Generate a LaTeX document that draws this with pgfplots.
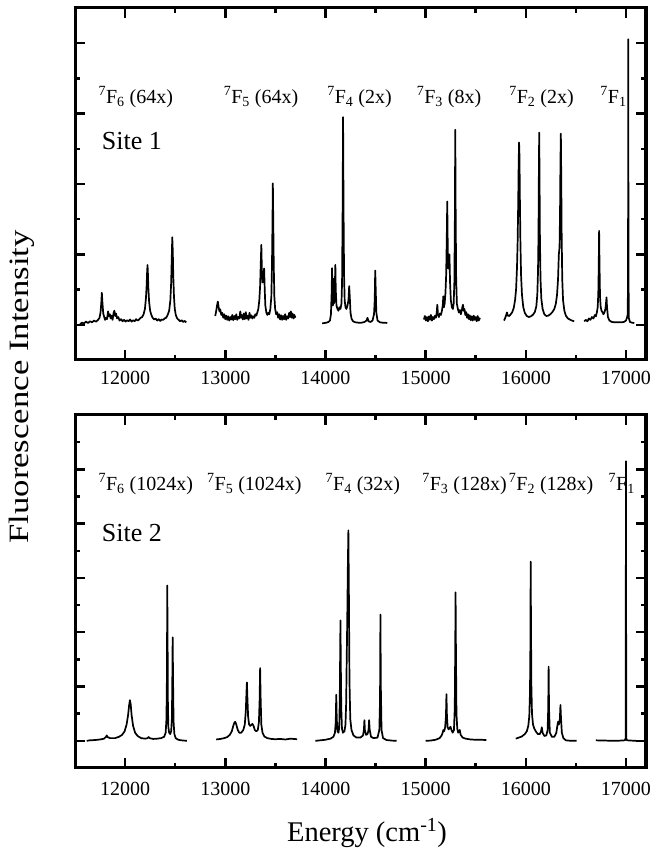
\documentclass[border=0pt]{standalone}
\usepackage{pgfplots}
\pgfplotsset{compat=1.18}
\usepackage{fontspec}
\setmainfont{Liberation Serif}

\newcommand{\F}[1]{\textsuperscript{7}F\textsubscript{#1}}
\newcommand{\lblfont}{\fontsize{20}{24}\selectfont}
\newcommand{\sitefont}{\fontsize{26}{30}\selectfont}

\pgfplotsset{
  specax/.style={
    scale only axis, width=571pt,
    xmin=11500, xmax=17200, ymin=-1,
    xtick={12000,13000,...,17000}, minor x tick num=1,
    scaled x ticks=false,
    yticklabels={},
    axis line style={line width=3pt},
    every tick/.style={black, line width=2.5pt},
    major tick length=10pt, minor tick length=5pt,
    xticklabel style={/pgf/number format/fixed, /pgf/number format/1000 sep={},
      /pgf/number format/assume math mode=true},
    no markers,
    every axis plot post/.append style={black, solid, line width=1.7pt, line join=round},
  },
}

\begin{document}
\begin{tikzpicture}
\useasboundingbox (0,0) rectangle (651pt,865pt);

% ---------- Site 1 ----------
\begin{axis}[specax, at={(75pt,505pt)}, anchor=south west, height=352pt,
  ymax=9, ytick={0,2,4,6,8}, minor ytick={1,3,5,7},
  xticklabel style={font=\fontsize{20}{24}\selectfont, yshift=-8pt}]
% 7F6
\addplot coordinates {(11550,0.02)(11570,0.06)(11590,0.04)(11610,0.09)(11630,0.05)(11650,0.10)(11670,0.07)(11690,0.12)(11710,0.09)(11730,0.14)(11745,0.20)(11755,0.35)(11762,0.60)(11768,0.91)(11774,0.62)(11782,0.32)(11792,0.22)(11800,0.14)(11810,0.20)(11820,0.16)(11830,0.38)(11838,0.24)(11848,0.30)(11856,0.18)(11866,0.26)(11875,0.14)(11885,0.33)(11893,0.40)(11902,0.25)(11910,0.32)(11920,0.18)(11932,0.22)(11945,0.12)(11960,0.16)(11975,0.10)(11990,0.14)(12005,0.09)(12020,0.13)(12035,0.10)(12050,0.15)(12065,0.09)(12080,0.13)(12095,0.10)(12110,0.16)(12125,0.12)(12140,0.15)(12155,0.20)(12170,0.22)(12185,0.30)(12198,0.45)(12208,0.75)(12215,1.10)(12220,1.50)(12224,1.70)(12228,1.45)(12233,1.00)(12240,0.65)(12250,0.40)(12262,0.28)(12275,0.20)(12290,0.15)(12305,0.18)(12320,0.12)(12335,0.16)(12350,0.11)(12365,0.15)(12380,0.14)(12395,0.18)(12410,0.20)(12425,0.28)(12440,0.40)(12452,0.70)(12460,1.20)(12466,1.90)(12471,2.49)(12476,2.10)(12481,1.40)(12488,0.80)(12496,0.45)(12506,0.28)(12520,0.18)(12535,0.14)(12550,0.10)(12565,0.13)(12580,0.08)(12595,0.11)(12610,0.07)};
% 7F5
\addplot coordinates {(12900,0.25)(12910,0.40)(12918,0.55)(12926,0.66)(12934,0.50)(12942,0.38)(12950,0.44)(12960,0.28)(12970,0.34)(12980,0.20)(12990,0.30)(13000,0.16)(13010,0.26)(13020,0.14)(13030,0.24)(13040,0.12)(13050,0.22)(13060,0.15)(13070,0.28)(13080,0.13)(13090,0.25)(13100,0.16)(13110,0.30)(13120,0.14)(13130,0.22)(13140,0.18)(13150,0.38)(13158,0.20)(13166,0.28)(13175,0.15)(13185,0.32)(13195,0.16)(13205,0.36)(13213,0.18)(13222,0.26)(13232,0.14)(13242,0.34)(13250,0.20)(13260,0.27)(13270,0.18)(13280,0.24)(13290,0.20)(13300,0.30)(13310,0.26)(13320,0.35)(13330,0.45)(13340,0.70)(13348,1.10)(13354,1.70)(13360,2.27)(13366,1.50)(13372,1.20)(13380,1.40)(13388,1.60)(13394,1.00)(13400,0.55)(13410,0.35)(13420,0.28)(13430,0.34)(13440,0.30)(13450,0.45)(13460,0.80)(13466,1.60)(13471,2.80)(13475,4.02)(13479,3.00)(13484,1.70)(13490,0.80)(13498,0.45)(13508,0.30)(13518,0.36)(13528,0.20)(13538,0.30)(13548,0.15)(13558,0.27)(13568,0.14)(13578,0.25)(13588,0.16)(13598,0.30)(13608,0.14)(13618,0.24)(13628,0.18)(13638,0.34)(13646,0.22)(13655,0.38)(13664,0.20)(13672,0.32)(13682,0.18)(13690,0.28)(13700,0.20)};
% 7F4
\addplot coordinates {(13967,0.04)(13990,0.05)(14010,0.06)(14030,0.08)(14045,0.12)(14055,0.30)(14062,0.90)(14066,1.61)(14070,0.90)(14075,0.55)(14080,1.30)(14084,0.60)(14090,0.70)(14095,1.20)(14099,1.70)(14103,1.00)(14110,0.55)(14120,0.45)(14130,0.40)(14140,0.50)(14150,0.45)(14160,0.60)(14166,1.20)(14171,3.00)(14176,5.90)(14181,3.20)(14186,1.40)(14192,0.70)(14200,0.50)(14210,0.45)(14220,0.55)(14230,0.70)(14237,1.10)(14243,0.80)(14250,0.35)(14260,0.18)(14275,0.10)(14300,0.07)(14330,0.06)(14360,0.06)(14390,0.08)(14410,0.12)(14420,0.20)(14430,0.10)(14450,0.08)(14470,0.12)(14485,0.30)(14492,0.70)(14497,1.54)(14502,1.00)(14508,0.35)(14520,0.12)(14545,0.07)(14570,0.06)(14595,0.06)(14617,0.05)};
% 7F3
\addplot coordinates {(14983,0.15)(14993,0.25)(15003,0.12)(15013,0.22)(15023,0.10)(15033,0.24)(15043,0.14)(15053,0.28)(15063,0.12)(15073,0.22)(15083,0.16)(15093,0.26)(15103,0.20)(15111,0.35)(15117,0.57)(15123,0.30)(15133,0.22)(15143,0.32)(15153,0.28)(15163,0.40)(15171,0.55)(15177,0.81)(15183,0.50)(15190,0.60)(15198,0.90)(15205,1.40)(15211,2.40)(15216,3.50)(15221,2.20)(15226,1.60)(15232,1.70)(15238,2.00)(15244,1.20)(15252,0.70)(15262,0.50)(15272,0.45)(15280,0.60)(15287,1.20)(15292,3.00)(15296,5.54)(15300,3.20)(15305,1.30)(15312,0.60)(15322,0.45)(15332,0.35)(15342,0.42)(15352,0.30)(15360,0.40)(15367,0.50)(15373,0.57)(15380,0.40)(15388,0.45)(15396,0.28)(15405,0.36)(15414,0.20)(15423,0.30)(15432,0.16)(15441,0.27)(15450,0.13)(15460,0.24)(15470,0.12)(15480,0.26)(15490,0.14)(15500,0.22)(15510,0.10)(15520,0.25)(15530,0.12)(15543,0.20)};
% 7F2
\addplot coordinates {(15783,0.12)(15795,0.20)(15805,0.28)(15812,0.35)(15820,0.26)(15835,0.25)(15850,0.30)(15865,0.36)(15880,0.48)(15893,0.70)(15903,1.00)(15912,1.60)(15919,2.40)(15925,3.60)(15929,4.60)(15933,5.18)(15937,4.80)(15941,3.60)(15946,2.40)(15953,1.40)(15962,0.85)(15975,0.50)(15990,0.34)(16010,0.25)(16030,0.22)(16050,0.24)(16070,0.28)(16090,0.36)(16105,0.52)(16115,0.85)(16122,1.50)(16127,2.60)(16131,4.50)(16134,5.46)(16137,4.30)(16141,2.50)(16147,1.30)(16155,0.75)(16168,0.45)(16185,0.30)(16205,0.25)(16225,0.26)(16245,0.30)(16265,0.36)(16285,0.45)(16300,0.60)(16312,0.85)(16322,1.30)(16330,2.00)(16337,2.20)(16342,3.20)(16346,4.60)(16350,5.43)(16354,4.20)(16358,2.60)(16364,1.30)(16372,0.70)(16385,0.40)(16400,0.26)(16420,0.18)(16440,0.15)(16460,0.12)(16483,0.10)};
% 7F1
\addplot coordinates {(16583,0.10)(16600,0.14)(16615,0.10)(16630,0.18)(16645,0.14)(16660,0.22)(16675,0.18)(16690,0.28)(16700,0.24)(16710,0.36)(16718,0.50)(16724,0.90)(16728,1.60)(16732,2.67)(16736,1.70)(16741,0.80)(16748,0.50)(16756,0.40)(16765,0.36)(16775,0.30)(16785,0.35)(16795,0.45)(16802,0.65)(16806,0.78)(16811,0.50)(16820,0.22)(16835,0.12)(16860,0.08)(16890,0.07)(16920,0.07)(16950,0.07)(16980,0.08)(17000,0.12)(17010,0.20)(17018,0.30)(17021,2.00)(17023,8.11)(17025,2.00)(17028,0.20)(17040,0.08)(17060,0.06)(17083,0.05)};

\node[anchor=base west, inner sep=0pt, font=\lblfont] at (axis cs:11733,6.3) {\F{6} (64x)};
\node[anchor=base west, inner sep=0pt, font=\lblfont] at (axis cs:12983,6.3) {\F{5} (64x)};
\node[anchor=base west, inner sep=0pt, font=\lblfont] at (axis cs:14017,6.3) {\F{4} (2x)};
\node[anchor=base west, inner sep=0pt, font=\lblfont] at (axis cs:14910,6.3) {\F{3} (8x)};
\node[anchor=base west, inner sep=0pt, font=\lblfont] at (axis cs:15833,6.3) {\F{2} (2x)};
\node[anchor=base west, inner sep=0pt, font=\lblfont] at (axis cs:16743,6.3) {\F{1}};
\node[anchor=base west, inner sep=0pt, font=\sitefont] at (axis cs:11767,4.97) {Site 1};
\end{axis}
\draw[line width=3pt] (75pt,505pt) rectangle (646pt,857pt);

% ---------- Site 2 ----------
\begin{axis}[specax, at={(75pt,97pt)}, anchor=south west, height=353pt,
  ymax=12, ytick={0,2,4,6,8,10}, minor ytick={1,3,5,7,9,11},
  xticklabel style={font=\fontsize{20}{24}\selectfont, yshift=-11pt}]
% 7F6
\addplot coordinates {(11617,0.00)(11650,0.02)(11700,0.03)(11750,0.05)(11790,0.08)(11810,0.15)(11817,0.20)(11825,0.14)(11850,0.10)(11900,0.10)(11940,0.15)(11970,0.22)(11995,0.35)(12015,0.60)(12030,0.95)(12040,1.30)(12048,1.50)(12056,1.35)(12065,0.95)(12080,0.55)(12100,0.30)(12125,0.18)(12160,0.10)(12200,0.08)(12225,0.10)(12235,0.14)(12245,0.10)(12280,0.07)(12320,0.08)(12360,0.10)(12390,0.15)(12405,0.30)(12413,0.80)(12418,2.50)(12421,5.72)(12424,4.00)(12427,1.50)(12432,0.50)(12440,0.30)(12450,0.25)(12460,0.35)(12467,0.80)(12471,2.00)(12475,3.81)(12479,2.20)(12484,0.70)(12492,0.25)(12505,0.10)(12530,0.04)(12560,0.02)(12590,0.01)(12617,0.00)};
% 7F5
\addplot coordinates {(12910,0.05)(12950,0.07)(12990,0.10)(13020,0.14)(13045,0.22)(13065,0.35)(13080,0.55)(13092,0.68)(13100,0.70)(13110,0.60)(13125,0.40)(13140,0.30)(13160,0.30)(13180,0.40)(13195,0.60)(13205,1.10)(13212,1.80)(13216,2.15)(13221,1.60)(13228,0.90)(13238,0.60)(13250,0.55)(13262,0.60)(13272,0.62)(13282,0.55)(13295,0.40)(13310,0.35)(13325,0.40)(13336,0.70)(13343,1.50)(13348,2.68)(13353,1.60)(13360,0.60)(13372,0.30)(13390,0.16)(13420,0.10)(13460,0.07)(13500,0.06)(13550,0.07)(13600,0.05)(13650,0.08)(13717,0.06)};
% 7F4
\addplot coordinates {(13900,0.00)(13950,0.02)(14000,0.04)(14050,0.08)(14080,0.15)(14095,0.30)(14103,0.70)(14108,1.70)(14113,0.80)(14120,0.35)(14130,0.30)(14138,0.50)(14143,1.50)(14147,3.20)(14150,4.43)(14153,3.00)(14158,1.20)(14165,0.45)(14175,0.30)(14190,0.35)(14200,0.60)(14207,1.40)(14212,2.90)(14218,4.50)(14224,6.50)(14229,7.75)(14234,5.50)(14240,2.20)(14248,0.80)(14260,0.40)(14280,0.20)(14310,0.12)(14350,0.12)(14375,0.20)(14384,0.40)(14389,0.76)(14394,0.40)(14405,0.22)(14420,0.25)(14430,0.40)(14436,0.76)(14442,0.40)(14455,0.15)(14480,0.10)(14520,0.12)(14538,0.40)(14545,1.50)(14549,4.65)(14553,2.00)(14560,0.40)(14575,0.10)(14610,0.03)(14660,0.01)(14710,0.00)};
% 7F3
\addplot coordinates {(15000,0.00)(15050,0.01)(15100,0.04)(15140,0.10)(15160,0.20)(15170,0.30)(15177,0.40)(15185,0.35)(15195,0.50)(15203,0.90)(15208,1.72)(15213,0.90)(15220,0.50)(15230,0.42)(15240,0.48)(15248,0.52)(15258,0.40)(15270,0.30)(15283,0.40)(15291,1.20)(15296,3.50)(15299,5.47)(15303,3.20)(15308,1.00)(15316,0.45)(15325,0.30)(15335,0.36)(15341,0.40)(15350,0.22)(15370,0.12)(15400,0.08)(15450,0.05)(15500,0.04)(15550,0.04)(15607,0.03)};
% 7F2
\addplot coordinates {(15900,0.08)(15930,0.12)(15960,0.16)(15990,0.25)(16010,0.35)(16025,0.55)(16035,0.90)(16042,1.80)(16046,3.50)(16049,6.60)(16052,4.20)(16056,2.00)(16062,1.00)(16072,0.60)(16085,0.45)(16100,0.35)(16120,0.25)(16140,0.25)(16152,0.35)(16160,0.50)(16168,0.30)(16185,0.18)(16205,0.20)(16218,0.40)(16224,1.20)(16228,2.73)(16232,1.20)(16240,0.30)(16260,0.15)(16285,0.15)(16305,0.30)(16315,0.55)(16322,0.70)(16330,0.60)(16340,0.80)(16346,1.32)(16352,0.80)(16360,0.30)(16375,0.10)(16400,0.02)(16450,0.00)(16507,0.00)};
% 7F1
\addplot coordinates {(16700,0.02)(16750,0.01)(16800,0.01)(16850,0.00)(16900,0.00)(16950,0.01)(16990,0.02)(16997,0.10)(17000,10.30)(17003,0.10)(17010,0.02)(17050,0.01)(17100,0.00)};

\node[anchor=base west, inner sep=0pt, font=\lblfont] at (axis cs:11733,9.22) {\F{6} (1024x)};
\node[anchor=base west, inner sep=0pt, font=\lblfont] at (axis cs:12817,9.22) {\F{5} (1024x)};
\node[anchor=base west, inner sep=0pt, font=\lblfont] at (axis cs:14000,9.22) {\F{4} (32x)};
\node[anchor=base west, inner sep=0pt, font=\lblfont] at (axis cs:14965,9.22) {\F{3} (128x)};
\node[anchor=base west, inner sep=0pt, font=\lblfont] at (axis cs:15830,9.22) {\F{2} (128x)};
\node[anchor=base west, inner sep=0pt, font=\lblfont] at (axis cs:16825,9.22) {\F{1}};
\node[anchor=base west, inner sep=0pt, font=\sitefont] at (axis cs:11767,7.35) {Site 2};
\end{axis}
\draw[line width=3pt] (75pt,97pt) rectangle (646pt,450pt);

\node[font=\fontsize{28.5}{32}\selectfont] at (367pt,32pt) {Energy (cm\textsuperscript{-1})};
\node[rotate=90, font=\fontsize{28}{32}\selectfont] at (22pt,478pt) {\scalebox{1.24}[1]{Fluorescence Intensity}};
\end{tikzpicture}
\end{document}
